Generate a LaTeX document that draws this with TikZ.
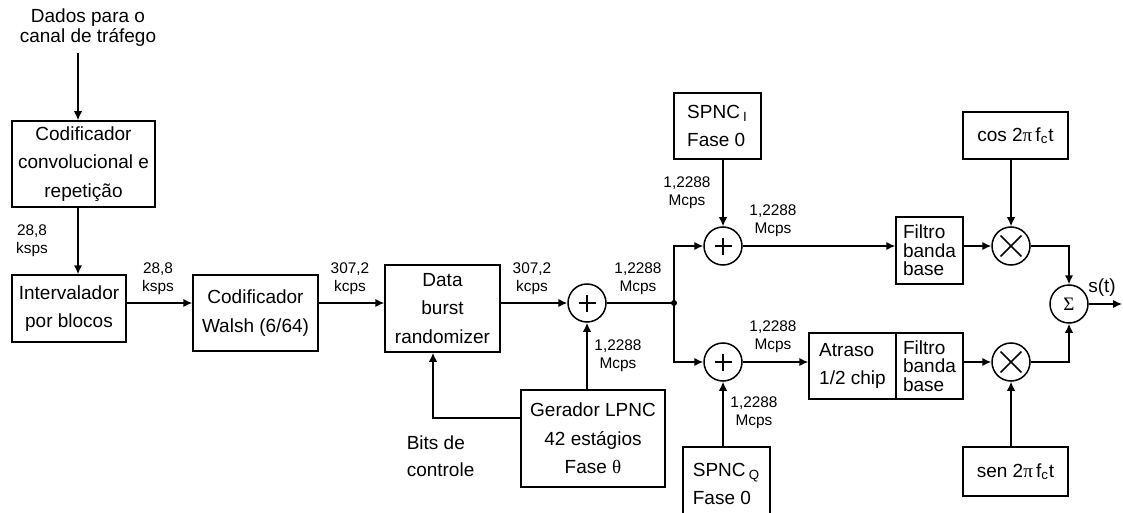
\documentclass[tikz,border=0pt]{standalone}
\usepackage{fontspec}
\setmainfont{Liberation Sans}
\newfontfamily\grego{Liberation Serif}
\usepackage{tikz}
\usetikzlibrary{arrows.meta}

\begin{document}
\begin{tikzpicture}[x=0.5pt,y=-0.5pt,line width=0.75pt,
		bloco/.style={draw,inner sep=0pt,align=center,font=\fontsize{9.5}{14.2}\selectfont},
		filtro/.style={bloco,align=left,font=\fontsize{9.5}{9.3}\selectfont},
		taxa/.style={align=center,inner sep=0pt,font=\fontsize{7.7}{9}\selectfont},
		seta/.style={-{Latex[length=4.5pt,width=4.2pt]}},
		circ/.style={draw,circle,minimum size=19pt,inner sep=0pt},
		soma/.style={circ,path picture={\draw[shift={(path picture bounding box.center)}] (-4.25pt,0pt) -- (4.25pt,0pt) (0pt,-4.25pt) -- (0pt,4.25pt);}},
		mult/.style={circ,path picture={\draw[shift={(path picture bounding box.center)}] (-5.2pt,-5.2pt) -- (5.2pt,5.2pt) (-5.2pt,5.2pt) -- (5.2pt,-5.2pt);}}]
		\clip (0,0) rectangle (1123,513);
		% entrada e codificacao
		\node[align=center,inner sep=0pt,font=\fontsize{9.5}{10}\selectfont] (dados) at (88,28) {Dados para o\\canal de tráfego};
		\coordinate (ent) at (78,53);
		\coordinate (lin) at (0,303);
		\node[bloco,minimum width=71.5pt,minimum height=43pt] (conv) at (83.5,164) {Codificador\\convolucional e\\repetição};
		\node[bloco,minimum width=57pt,minimum height=33.5pt] (intv) at (69,308.5) {Intervalador\\por blocos};
		\node[bloco,minimum width=62.5pt,minimum height=38pt] (walsh) at (255.5,313) {Codificador\\Walsh (6/64)};
		\node[bloco,minimum width=57.5pt,minimum height=43.5pt] (dbr) at (442.5,308.5) {Data\\burst\\randomizer};
		\node[bloco,minimum width=72pt,minimum height=48.5pt] (lpnc) at (593,438.5) {Gerador LPNC\\42 estágios\\Fase {\grego θ}};
		\node[soma] (add1) at (587,303) {};
		\coordinate (jn) at (674,303);
		\coordinate (ctl) at (433,418);
		\node[align=left,anchor=west,inner sep=0pt,font=\fontsize{9.5}{13.5}\selectfont] (bits) at (406,456) {Bits de\\controle};
		% ramos I e Q
		\node[bloco,align=left,minimum width=43.5pt,minimum height=33pt] (spnci) at (717.5,126) {SPNC\,\textsubscript{I}\\Fase 0};
		\node[bloco,align=left,minimum width=43.5pt,minimum height=37pt] (spncq) at (726.5,484) {SPNC\,\textsubscript{Q}\\Fase 0};
		\node[soma] (add2) at (723,246) {};
		\node[soma] (add3) at (723,362) {};
		\node[filtro,minimum width=33.5pt,minimum height=33.5pt] (filt1) at (929.5,250.5) {Filtro\\banda\\base};
		\node[bloco,align=left,minimum width=43.5pt,minimum height=33pt] (atr) at (852.5,366) {Atraso\\1/2 chip};
		\node[filtro,minimum width=33.5pt,minimum height=33pt] (filt2) at (929.5,366) {Filtro\\banda\\base};
		\node[mult] (mix1) at (1011,246) {};
		\node[mult] (mix2) at (1011,362) {};
		\node[bloco,minimum width=52.5pt,minimum height=23.5pt] (cos) at (1015.5,135.5) {cos 2{\grego π}\,f\textsubscript{c}t};
		\node[bloco,minimum width=52.5pt,minimum height=24.5pt] (sen) at (1015.5,471.5) {sen 2{\grego π}\,f\textsubscript{c}t};
		\node[circ,font=\fontsize{9.5}{10}\selectfont] (sum) at (1069,304) {\grego Σ};
		\coordinate (saida) at (1122,304);
		\node[inner sep=0pt,font=\fontsize{9.5}{10}\selectfont] (st) at (1102,288) {s(t)};
		% taxas
		\node[taxa] (r1) at (32,241) {28,8\\ksps};
		\node[taxa] (r2) at (158,279) {28,8\\ksps};
		\node[taxa] (r3) at (350,279) {307,2\\kcps};
		\node[taxa] (r4) at (532,279) {307,2\\kcps};
		\node[taxa] (r5) at (638,279) {1,2288\\Mcps};
		\node[taxa] (r6) at (618,356) {1,2288\\Mcps};
		\node[taxa] (r7) at (687,193) {1,2288\\Mcps};
		\node[taxa] (r8) at (773,221) {1,2288\\Mcps};
		\node[taxa] (r9) at (773,337) {1,2288\\Mcps};
		\node[taxa] (r10) at (754,413) {1,2288\\Mcps};
		% ligacoes
		\draw[seta] (ent) -- (ent |- conv.north);
		\draw[seta] (ent |- conv.south) -- (ent |- intv.north);
		\draw[seta] (intv.east |- lin) -- (walsh.west |- lin);
		\draw[seta] (walsh.east |- lin) -- (dbr.west |- lin);
		\draw[seta] (dbr.east |- lin) -- (add1);
		\draw[seta] (add1 |- lpnc.north) -- (add1);
		\draw[seta] (lpnc.west |- ctl) -- (ctl) -- (ctl |- dbr.south);
		\draw (add1) -- (jn);
		\fill (jn) circle (1.5pt);
		\draw[seta] (jn) |- (add2);
		\draw[seta] (jn) |- (add3);
		\draw[seta] (add2 |- spnci.south) -- (add2);
		\draw[seta] (add3 |- spncq.north) -- (add3);
		\draw[seta] (add2) -- (filt1.west |- add2);
		\draw[seta] (add3) -- (atr.west |- add3);
		\draw[seta] (filt1.east |- mix1) -- (mix1);
		\draw[seta] (filt2.east |- mix2) -- (mix2);
		\draw[seta] (mix1 |- cos.south) -- (mix1);
		\draw[seta] (mix2 |- sen.north) -- (mix2);
		\draw[seta] (mix1.east) -| (sum.north);
		\draw[seta] (mix2.east) -| (sum.south);
		\draw[seta] (sum) -- (saida);
	\end{tikzpicture}
\end{document}
